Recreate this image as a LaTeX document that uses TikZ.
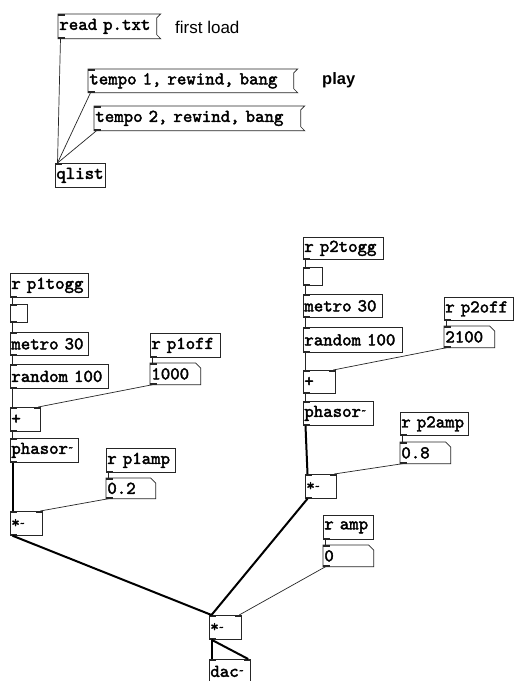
\documentclass[tikz,border=0pt]{standalone}
\usepackage{fontspec}
\setmainfont{Liberation Sans}
\newfontfamily\pdmono{lmmono10-regular.otf}[FakeBold=2.2]
\usetikzlibrary{calc}

\newcommand{\pdfont}{\pdmono\fontsize{18}{18}\selectfont}

\tikzset{
  pdbox/.style={
    rectangle,
    draw=black!85,
    line width=0.7pt,
    anchor=north west,
    inner xsep=1pt,
    inner ysep=0pt,
    align=left,
    font=\pdfont
  },
  msgbox/.style={pdbox, draw=none},
  numbox/.style={pdbox, draw=none},
  ctl/.style={draw=black!85, line width=0.7pt},
  sig/.style={draw=black, line width=2pt},
  note/.style={
    anchor=west,
    inner sep=0pt,
    font=\fontsize{17}{17}\selectfont
  }
}
\newcommand{\sigtilde}{\raisebox{3pt}{\fontsize{10}{10}\selectfont\textasciitilde}}
\newcommand{\sigmul}{{\fontsize{16}{16}\selectfont *\raisebox{1pt}{\fontsize{10}{10}\selectfont\textasciitilde}}}

\begin{document}
\begin{tikzpicture}[x=1pt, y=-1pt]
  \clip (0,0) rectangle (514,681);
  \fill[white] (0,0) rectangle (514,681);

  %==================================================
  % qlist player
  %==================================================
  \node[msgbox, text width=96pt,  minimum height=24pt] (rd) at (58,14)  {read p.txt};
  \node[note] (lblload) at (175,27) {first load};
  \node[msgbox, text width=203pt, minimum height=23pt] (t1) at (88,69)  {tempo 1, rewind, bang};
  \node[msgbox, text width=204pt, minimum height=24pt] (t2) at (94,106) {tempo 2, rewind, bang};
  \node[note, font=\bfseries\fontsize{16.5}{17}\selectfont] (lblplay) at (322,80) {play};
  \node[pdbox, text width=48pt, minimum height=24pt] (ql) at (55,163) {qlist};

  %==================================================
  % voice 1
  %==================================================
  \node[pdbox, text width=76pt, minimum height=24pt] (rp1togg) at (10,273) {r p1togg};
  \node[pdbox, text width=15pt, minimum height=18pt] (tg1)     at (10,304) {};
  \node[pdbox, text width=76pt, minimum height=23pt] (metro1)  at (10,332) {metro 30};
  \node[pdbox, text width=96pt, minimum height=24pt] (rand1)   at (10,364) {random 100};
  \node[pdbox, text width=68pt, minimum height=24pt] (rp1off)  at (150,333) {r p1off};
  \node[numbox, text width=48pt, minimum height=21pt] (n1000)  at (150,363) {1000};
  \node[pdbox, text width=28pt, minimum height=24pt] (plus1)   at (10,407) {+};
  \node[pdbox, text width=66pt, minimum height=24pt] (phasor1) at (10,438) {phasor\sigtilde};
  \node[pdbox, text width=67pt, minimum height=24pt] (rp1amp)  at (106,448) {r p1amp};
  \node[numbox, text width=47pt, minimum height=20pt] (n02)    at (106,478) {0.2};
  \node[pdbox, text width=30pt, minimum height=24pt] (mul1)    at (10,511) {\sigmul};

  %==================================================
  % voice 2
  %==================================================
  \node[pdbox, text width=78pt, minimum height=22pt] (rp2togg) at (303,237) {r p2togg};
  \node[pdbox, text width=17pt, minimum height=18pt] (tg2)     at (303,267) {};
  \node[pdbox, text width=77pt, minimum height=23pt] (metro2)  at (303,294) {metro 30};
  \node[pdbox, text width=97pt, minimum height=25pt] (rand2)   at (303,327) {random 100};
  \node[pdbox, text width=67pt, minimum height=23pt] (rp2off)  at (444,297) {r p2off};
  \node[numbox, text width=48pt, minimum height=21pt] (n2100)  at (444,326) {2100};
  \node[pdbox, text width=30pt, minimum height=23pt] (plus2)   at (303,370) {+};
  \node[pdbox, text width=68pt, minimum height=24pt] (phasor2) at (303,401) {phasor\sigtilde};
  \node[pdbox, text width=66pt, minimum height=23pt] (rp2amp)  at (400,412) {r p2amp};
  \node[numbox, text width=48pt, minimum height=21pt] (n08)    at (400,442) {0.8};
  \node[pdbox, text width=29pt, minimum height=24pt] (mul2)    at (305,474) {\sigmul};

  %==================================================
  % master volume and output
  %==================================================
  \node[pdbox, text width=48pt, minimum height=24pt] (ramp) at (323,515) {r amp};
  \node[numbox, text width=48pt, minimum height=21pt] (n0)  at (323,545) {0};
  \node[pdbox, text width=30pt, minimum height=24pt] (mul3) at (209,615) {\sigmul};
  \node[pdbox, text width=39pt, minimum height=24pt] (dac)  at (209,659) {dac\sigtilde};

  % message box frames (flag on the right)
  \foreach \n in {rd,t1,t2}
    \draw[ctl] (\n.north west) -- ([xshift=4pt]\n.north east) -- ([yshift=-4pt]\n.north east)
      -- ([yshift=4pt]\n.south east) -- ([xshift=4pt]\n.south east) -- (\n.south west) -- cycle;

  % number box frames (cut corner)
  \foreach \n in {n1000,n02,n2100,n08,n0}
    \draw[ctl] (\n.north west) -- ([xshift=-5pt]\n.north east) -- ([yshift=-5pt]\n.north east)
      -- (\n.south east) -- (\n.south west) -- cycle;

  % inlets and outlets
  \foreach \n in {rd,t1,t2,ql,tg1,metro1,rand1,n1000,plus1,phasor1,n02,mul1,
                  tg2,metro2,rand2,n2100,plus2,phasor2,n08,mul2,n0,mul3,dac}
    \fill[black!85] (\n.north west) rectangle ++(7pt,-1.5pt);
  \foreach \n in {rd,t1,t2,rp1togg,tg1,metro1,rand1,rp1off,n1000,plus1,phasor1,rp1amp,n02,mul1,
                  rp2togg,tg2,metro2,rand2,rp2off,n2100,plus2,phasor2,rp2amp,n08,mul2,ramp,n0,mul3}
    \fill[black!85] (\n.south west) rectangle ++(7pt,1.5pt);
  \foreach \n in {plus1,mul1,plus2,mul2,mul3,dac}
    \fill[black!85] (\n.north east) rectangle ++(-7pt,-1.5pt);

  %==================================================
  % control connections
  %==================================================
  \foreach \a/\b in {rd/ql, t1/ql, t2/ql,
                     rp1togg/tg1, tg1/metro1, metro1/rand1, rand1/plus1, plus1/phasor1,
                     rp1off/n1000, rp1amp/n02,
                     rp2togg/tg2, tg2/metro2, metro2/rand2, rand2/plus2, plus2/phasor2,
                     rp2off/n2100, rp2amp/n08, ramp/n0}
    \draw[ctl] ([xshift=2.5pt]\a.south west) -- ([xshift=2.5pt]\b.north west);
  \foreach \a/\b in {n1000/plus1, n02/mul1, n2100/plus2, n08/mul2, n0/mul3}
    \draw[ctl] ([xshift=2.5pt]\a.south west) -- ([xshift=-2.5pt]\b.north east);

  %==================================================
  % signal connections
  %==================================================
  \foreach \a/\b in {phasor1/mul1, phasor2/mul2, mul1/mul3, mul2/mul3, mul3/dac}
    \draw[sig] ([xshift=2.5pt]\a.south west) -- ([xshift=2.5pt]\b.north west);
  \draw[sig] ([xshift=2.5pt]mul3.south west) -- ([xshift=-2.5pt]dac.north east);
\end{tikzpicture}
\end{document}
